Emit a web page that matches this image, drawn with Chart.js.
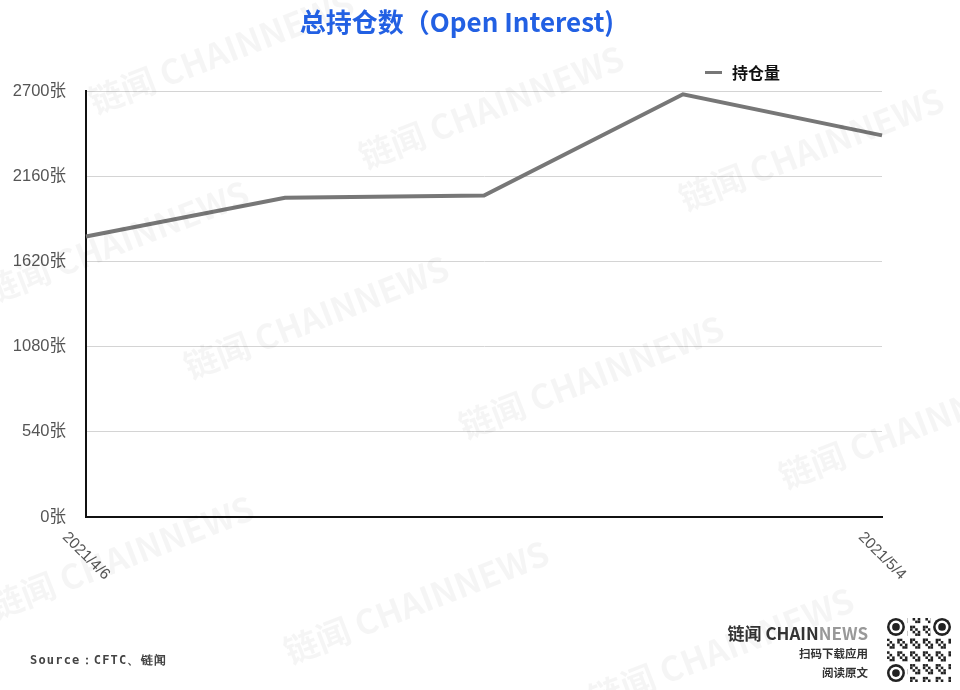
<!DOCTYPE html>
<html>
<head>
<meta charset="utf-8">
<script src="https://cdn.jsdelivr.net/npm/chart.js@4"></script>
<style>
  body { margin: 0; background: #fff; }
  #wrap { position: relative; width: 960px; height: 690px; overflow: hidden; font-family: "Liberation Sans", "Noto Sans CJK SC", sans-serif; }
  #chart { position: absolute; left: 0; top: 0; }
  .title { position: absolute; left: 0; width: 914px; top: 2px; text-align: center; color: #2260e3; font: bold 26px "Noto Sans CJK SC", sans-serif; }
  .legend { position: absolute; left: 705px; top: 60px; font: bold 16px "Noto Sans CJK SC", sans-serif; color: #111; }
  .legend i { display: inline-block; width: 17px; height: 3px; background: #777; vertical-align: middle; margin-right: 10px; position: relative; top: -2px; }
  .source { position: absolute; left: 30px; top: 652px; font: bold 12px "DejaVu Sans Mono", monospace; letter-spacing: 1.2px; color: #444; }
  .brand { position: absolute; right: 92px; top: 622px; text-align: right; font-family: "Noto Sans CJK SC", sans-serif; font-weight: bold; color: #333; }
  .brand .b1 { font-size: 17px; line-height: 22px; }
  .brand .b1 span { color: #999; }
  .brand .b2 { font-size: 11.5px; line-height: 19px; }
  #qr { position: absolute; left: 887px; top: 618px; }
  #wm { position: absolute; left: 0; top: 0; pointer-events: none; }
</style>
</head>
<body>
<div id="wrap">
  <canvas id="chart" width="960" height="690"></canvas>
  <canvas id="wm" width="960" height="690"></canvas>
  <div class="title">总持仓数（Open Interest)</div>
  <div class="legend"><i></i>持仓量</div>
  <div class="source">Source：CFTC、链闻</div>
  <div class="brand">
    <div class="b1">链闻 CHAIN<span>NEWS</span></div>
    <div class="b2">扫码下载应用</div>
    <div class="b2">阅读原文</div>
  </div>
  <canvas id="qr" width="64" height="66"></canvas>
</div>
<script>
// data
const dates = ['2021/4/6', '2021/4/13', '2021/4/20', '2021/4/27', '2021/5/4'];
const openInterest = [1778, 2023, 2037, 2679, 2419];
const yTicks = [0, 540, 1080, 1620, 2160, 2700];

// draw only first/last date, rotated 45deg and centred under its tick
const xLabels = {
  id: 'xLabels',
  afterDraw(chart) {
    const ctx = chart.ctx;
    const x = chart.scales.x;
    ctx.save();
    ctx.font = '15.5px "Liberation Sans", sans-serif';
    ctx.fillStyle = '#555';
    ctx.textAlign = 'center';
    ctx.textBaseline = 'middle';
    [0, dates.length - 1].forEach(i => {
      ctx.save();
      ctx.translate(x.getPixelForValue(i), chart.chartArea.bottom + 39);
      ctx.rotate(Math.PI / 4);
      ctx.fillText(dates[i], 0, 0);
      ctx.restore();
    });
    ctx.restore();
  }
};

new Chart(document.getElementById('chart'), {
  type: 'line',
  data: {
    labels: dates,
    datasets: [{
      label: '持仓量',
      data: openInterest,
      borderColor: '#777',
      backgroundColor: '#777',
      borderWidth: 4,
      pointRadius: 0,
      tension: 0
    }]
  },
  options: {
    responsive: false,
    animation: false,
    layout: { padding: { top: 91, right: 78, bottom: 173, left: 0 } },
    plugins: {
      legend: { display: false },
      tooltip: { enabled: false }
    },
    scales: {
      x: {
        offset: false,
        grid: { display: false },
        border: { display: true, color: '#111', width: 2 },
        ticks: { display: false },
        afterFit(s) { s.height = 0; }
      },
      y: {
        min: 0,
        max: 2700,
        afterBuildTicks(s) { s.ticks = yTicks.map(v => ({ value: v })); },
        grid: { color: '#d4d4d4', lineWidth: 1, drawTicks: false },
        border: { display: true, color: '#111', width: 2 },
        ticks: {
          padding: 20,
          color: '#555',
          font: { size: 16.5, family: '"Liberation Sans", "Noto Sans CJK SC", sans-serif' },
          callback: v => v + '张'
        },
        afterFit(s) { s.width = 86; }
      }
    }
  },
  plugins: [xLabels]
});

// faint watermarks
const wm = document.getElementById('wm').getContext('2d');
wm.font = 'bold 34px "Noto Sans CJK SC", sans-serif';
wm.fillStyle = 'rgba(0,0,0,0.04)';
[[95, 115], [365, 170], [685, 212], [-10, 305], [190, 380], [465, 440], [785, 490], [-5, 620], [290, 665], [595, 712]].forEach(p => {
  wm.save();
  wm.translate(p[0], p[1]);
  wm.rotate(-0.37);
  wm.fillText('链闻 CHAINNEWS', 0, 0);
  wm.restore();
});

// qr-like badge
const q = document.getElementById('qr').getContext('2d');
const n = 25, c = 64 / n;
q.fillStyle = '#222';
for (let i = 0; i < n; i++) {
  for (let j = 0; j < n; j++) {
    if (((i * 7 + j * 13 + i * j) % 5) < 2) q.fillRect(j * c, i * c, c, c);
  }
}
[[0, 0], [n - 7, 0], [0, n - 7]].forEach(([a, b]) => {
  q.fillStyle = '#fff';
  q.fillRect(a * c - c, b * c - c, 9 * c, 9 * c);
  q.fillStyle = '#222';
  q.beginPath(); q.arc((a + 3.5) * c, (b + 3.5) * c, 3.5 * c, 0, Math.PI * 2); q.fill();
  q.fillStyle = '#fff';
  q.beginPath(); q.arc((a + 3.5) * c, (b + 3.5) * c, 2.5 * c, 0, Math.PI * 2); q.fill();
  q.fillStyle = '#222';
  q.beginPath(); q.arc((a + 3.5) * c, (b + 3.5) * c, 1.5 * c, 0, Math.PI * 2); q.fill();
});
</script>
</body>
</html>
